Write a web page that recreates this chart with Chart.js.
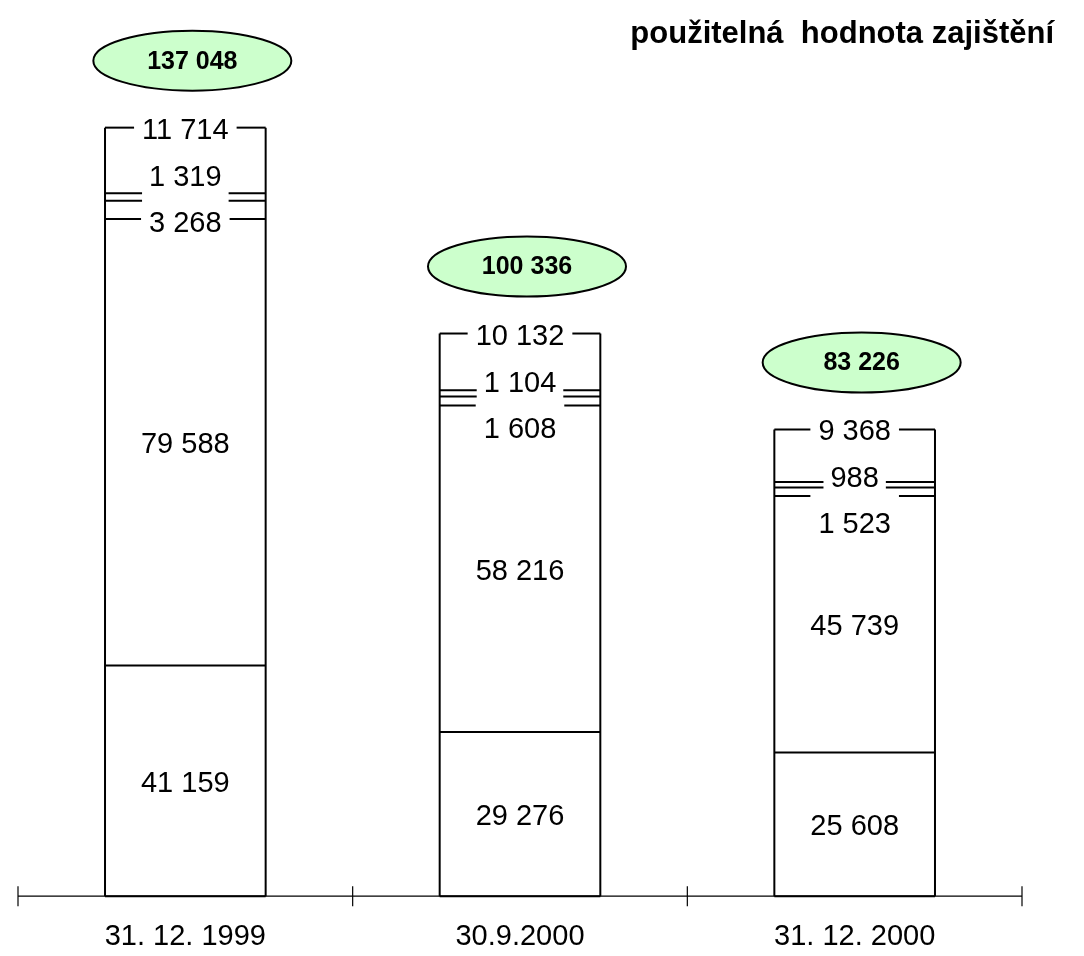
<!DOCTYPE html>
<html>
<head>
<meta charset="utf-8">
<script src="https://cdn.jsdelivr.net/npm/chart.js@4/dist/chart.umd.min.js"></script>
<style>
  body { margin: 0; background: #fff; }
  canvas { display: block; }
</style>
</head>
<body>
<canvas id="chart" width="1084" height="956"></canvas>
<script>
// hodnoty zajištění (v tis.)
const categories = ['31. 12. 1999', '30.9.2000', '31. 12. 2000'];
const baseValues = [41159, 29276, 25608];
const secondValues = [79588, 58216, 45739];
const thirdValues = [3268, 1608, 1523];
const fourthValues = [1319, 1104, 988];
const topValues = [11714, 10132, 9368];
const totals = [137048, 100336, 83226];
const titleText = 'použitelná  hodnota zajištění';

const FONT = '"Liberation Sans", Arial, sans-serif';

function fmt(v) {
    return String(v).replace(/\B(?=(\d{3})+(?!\d))/g, ' ');
}

function line(ctx, x1, y1, x2, y2) {
    ctx.beginPath();
    ctx.moveTo(x1, y1);
    ctx.lineTo(x2, y2);
    ctx.stroke();
}

// obrysy sloupců, popisky a elipsy se součty
const overlayPlugin = {
    id: 'overlay',
    afterDatasetsDraw(chart) {
        const ctx = chart.ctx;
        const area = chart.chartArea;
        const xs = chart.scales.x;
        const metas = chart.data.datasets.map((d, i) => chart.getDatasetMeta(i));

        ctx.save();
        ctx.strokeStyle = '#000';
        ctx.fillStyle = '#000';

        // osa x se značkami mezi kategoriemi
        ctx.lineWidth = 1.2;
        line(ctx, area.left, area.bottom, area.right, area.bottom);
        const step = (xs.right - xs.left) / categories.length;
        for (let i = 0; i <= categories.length; i++) {
            const x = xs.left + i * step;
            line(ctx, x, area.bottom - 10, x, area.bottom + 10);
        }

        ctx.font = '29px ' + FONT;
        ctx.textAlign = 'center';
        ctx.textBaseline = 'middle';

        for (let j = 0; j < categories.length; j++) {
            const els = metas.map(m => m.data[j]);
            const cx = els[0].x;
            const w = els[0].width;
            const L = cx - w / 2;
            const R = cx + w / 2;
            const yBase = els[0].base;
            const yTop = els[4].y;

            ctx.lineWidth = 2;
            line(ctx, L, yBase, L, yTop);
            line(ctx, R, yBase, R, yTop);
            line(ctx, L, yBase, R, yBase);
            line(ctx, L, els[0].y, R, els[0].y);

            const gapLine = (y, gap) => {
                line(ctx, L, y, cx - gap / 2, y);
                line(ctx, cx + gap / 2, y, R, y);
            };

            const tTop = fmt(topValues[j]);
            const tFourth = fmt(fourthValues[j]);
            const tThird = fmt(thirdValues[j]);
            gapLine(yTop, ctx.measureText(tTop).width + 16);
            gapLine(els[3].y, ctx.measureText(tFourth).width + 14);
            gapLine(els[2].y, ctx.measureText(tFourth).width + 14);
            gapLine(els[1].y, ctx.measureText(tThird).width + 16);

            ctx.fillText(fmt(baseValues[j]), cx, (els[0].y + els[0].base) / 2 + 3);
            ctx.fillText(fmt(secondValues[j]), cx, (els[1].y + els[1].base) / 2 + 3);
            ctx.fillText(tTop, cx, yTop + 3);
            ctx.fillText(tFourth, cx, yTop + 50);
            ctx.fillText(tThird, cx, yTop + 96);

            // elipsa se součtem
            const ex = cx + 7;
            const ey = yTop - 67;
            ctx.beginPath();
            ctx.ellipse(ex, ey, 99, 30, 0, 0, Math.PI * 2);
            ctx.fillStyle = '#ccffcc';
            ctx.fill();
            ctx.lineWidth = 2;
            ctx.stroke();
            ctx.fillStyle = '#000';
            ctx.font = 'bold 25px ' + FONT;
            ctx.fillText(fmt(totals[j]), ex, ey + 1);
            ctx.font = '29px ' + FONT;
        }

        // nadpis
        ctx.font = 'bold 31px ' + FONT;
        ctx.textAlign = 'right';
        ctx.textBaseline = 'alphabetic';
        ctx.fillText(titleText, 1054, 43);
        ctx.restore();
    }
};

const segment = (data) => ({
    data: data,
    backgroundColor: '#ffffff',
    borderWidth: 0,
    categoryPercentage: 1,
    barPercentage: 0.48
});

new Chart(document.getElementById('chart'), {
    type: 'bar',
    data: {
        labels: categories,
        datasets: [
            segment(baseValues),
            segment(secondValues),
            segment(thirdValues),
            segment(fourthValues),
            segment(topValues)
        ]
    },
    options: {
        responsive: false,
        animation: false,
        layout: { padding: { left: 18, right: 62, top: 55, bottom: -21 } },
        plugins: {
            legend: { display: false },
            tooltip: { enabled: false }
        },
        scales: {
            x: {
                stacked: true,
                grid: { display: false, drawTicks: false },
                border: { display: false },
                ticks: {
                    color: '#000',
                    padding: 23,
                    font: { family: FONT, size: 29 }
                }
            },
            y: {
                stacked: true,
                display: false,
                min: 0,
                max: 150000
            }
        }
    },
    plugins: [overlayPlugin]
});
</script>
</body>
</html>
